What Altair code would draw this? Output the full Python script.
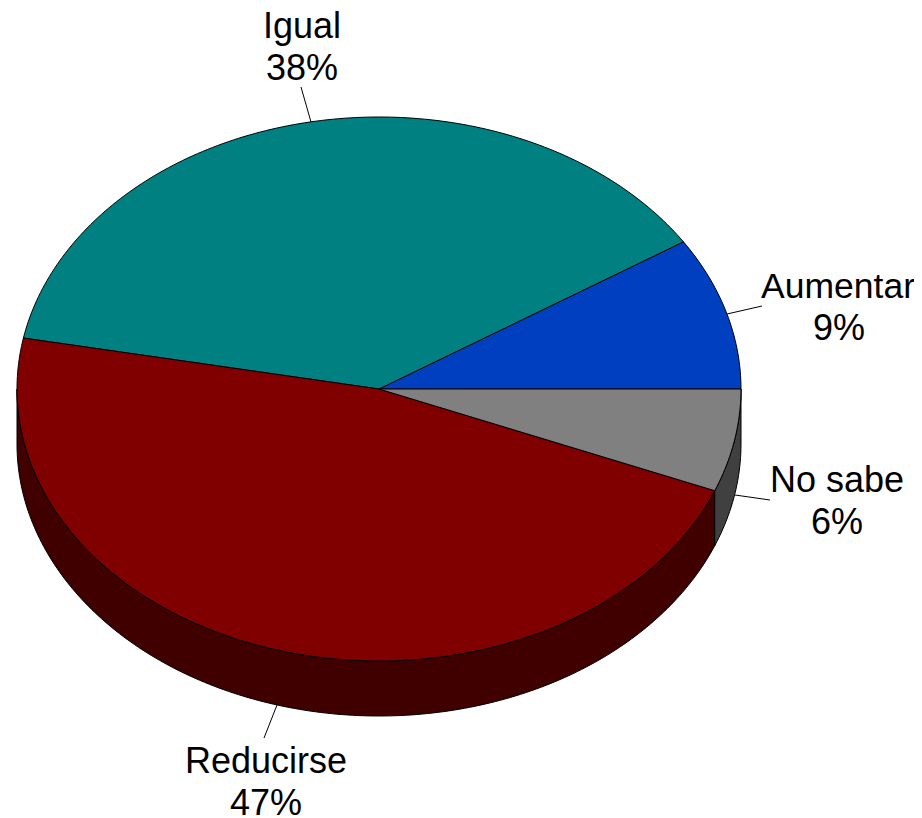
import numpy as np
import pandas as pd
import altair as alt

categories = ["Aumentar", "Igual", "Reducirse", "No sabe"]
shares = [9.1, 37.9, 46.9, 6.1]
top_colors = ["#0040C0", "#008080", "#800000", "#808080"]
side_colors = ["#002060", "#004040", "#400000", "#404040"]
percent_labels = ["9%", "38%", "47%", "6%"]

name_x = [838, 302, 266, 837]
pct_x = [839, 302, 266, 837]
name_size = [35.5, 36, 36, 36]
name_y = [298, 38, 773, 492]
pct_y = [340, 80, 815, 534]
leader_x1 = [727, 311, 277, 735]
leader_y1 = [314, 122, 705, 495]
leader_x2 = [762, 301, 264, 770]
leader_y2 = [306, 87, 738, 500]

CX, CY, RX, RY, DEPTH = 379, 389, 362, 272, 55

top_rows, side_rows = [], []
start = 0.0
for i, (cat, share) in enumerate(zip(categories, shares)):
    end = start + share / 100 * 2 * np.pi
    n = max(int(share * 4), 8)
    ts = np.linspace(start, end, n)
    k = 0
    pts = [(CX, CY)] + [(CX + RX * np.cos(t), CY - RY * np.sin(t)) for t in ts] + [(CX, CY)]
    for x, y in pts:
        top_rows.append(dict(cat=cat, x=x, y=y, k=k))
        k += 1
    # Outer wall: only the part of the wedge on the front half of the rim
    lo, hi = max(start, np.pi), min(end, 2 * np.pi)
    if hi > lo:
        tw = np.linspace(lo, hi, n)
        rim = [(CX + RX * np.cos(t), CY - RY * np.sin(t)) for t in tw]
        low = [(x, y + DEPTH) for x, y in reversed(rim)]
        k = 0
        for x, y in rim + low + rim[:1]:
            side_rows.append(dict(cat=cat, x=x, y=y, k=k))
            k += 1
    start = end

top = pd.DataFrame(top_rows)
side = pd.DataFrame(side_rows)
labels = pd.DataFrame(dict(cat=categories, pct=percent_labels, nx=name_x, px=pct_x,
                           ny=name_y, py=pct_y, fs=name_size))
leaders = pd.DataFrame(dict(cat=categories, x=leader_x1, y=leader_y1, x2=leader_x2, y2=leader_y2))

W, H = 906, 810
xs = alt.Scale(domain=[8, 8 + W], range=[0, W], nice=False, zero=False)
ys = alt.Scale(domain=[8, 8 + H], range=[0, H], nice=False, zero=False)
X = alt.X("x:Q", scale=xs, axis=None)
Y = alt.Y("y:Q", scale=ys, axis=None)


def shape(df, colors):
    return alt.Chart(df).mark_line(stroke="black", strokeWidth=1, interpolate="linear", strokeJoin="round").encode(
        x=X, y=Y, order="k:Q", detail="cat:N",
        fill=alt.Fill("cat:N", scale=alt.Scale(domain=categories, range=colors), legend=None),
    )


lead = alt.Chart(leaders).mark_rule(color="black", strokeWidth=1).encode(
    x=X, y=Y, x2="x2:Q", y2="y2:Q"
)
txt = dict(font="Liberation Sans", fontSize=36, color="black", align="center", baseline="alphabetic")
names = alt.Chart(labels).mark_text(**txt).encode(
    x=alt.X("nx:Q", scale=xs, axis=None), y=alt.Y("ny:Q", scale=ys, axis=None), text="cat:N",
    size=alt.Size("fs:Q", scale=None),
)
pcts = alt.Chart(labels).mark_text(**txt).encode(
    x=alt.X("px:Q", scale=xs, axis=None), y=alt.Y("py:Q", scale=ys, axis=None), text="pct:N"
)

chart = alt.layer(
    shape(side, side_colors), shape(top, top_colors), lead, names, pcts
).resolve_scale(fill="independent").properties(
    width=W, height=H, padding=0, autosize=alt.AutoSizeParams(type="none"),
    background="white",
).configure_view(stroke=None)

chart.save("out.html", embed_options={"renderer": "svg", "actions": False})
